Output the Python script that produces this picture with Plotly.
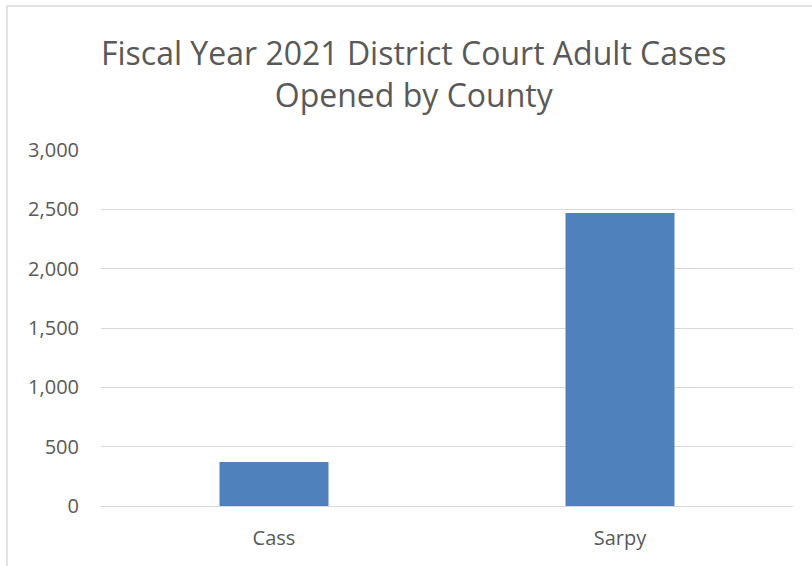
import plotly.graph_objects as go

counties = ["Cass", "Sarpy"]
cases = [371, 2469]
tick_vals = [0, 500, 1000, 1500, 2000, 2500, 3000]
tick_text = ["0", "500", "1,000", "1,500", "2,000", "2,500", "3,000"]
title_text = "Fiscal Year 2021 District Court Adult Cases<br>Opened by County"

fig = go.Figure(go.Bar(x=counties, y=cases, marker=dict(color="#4f81bd", line=dict(width=0))))

fig.update_layout(
    width=812, height=566,
    margin=dict(l=101, r=19, t=150, b=60),
    paper_bgcolor="white", plot_bgcolor="white",
    font=dict(family="Open Sans", color="#595959"),
    bargap=0.685,
    showlegend=False,
)
fig.add_annotation(text=title_text, xref="paper", yref="paper",
                   x=(414 - 101) / 692, y=(506 - 74) / 356,
                   xanchor="center", yanchor="middle", showarrow=False,
                   font=dict(size=32, color="#595959"))
fig.update_yaxes(range=[0, 3000], tickvals=tick_vals, ticktext=tick_text,
                 showgrid=True, gridcolor="#d9d9d9", gridwidth=1,
                 zeroline=False, showline=False, ticks="",
                 tickfont=dict(size=20, color="#595959"), ticklabelstandoff=21)
fig.update_xaxes(showline=True, linecolor="#d9d9d9", linewidth=1, ticks="",
                 tickfont=dict(size=20, color="#595959"), ticklabelstandoff=14)
fig.add_shape(type="rect", xref="paper", yref="paper",
              x0=(7 - 101) / 692, x1=1.2, y0=-0.5, y1=(506 - 6) / 356,
              line=dict(color="#d9d9d9", width=1.5), fillcolor="rgba(0,0,0,0)", layer="below")

fig.write_html("out.html", config={"displayModeBar": False},
               post_script="document.body.style.margin='0';")
